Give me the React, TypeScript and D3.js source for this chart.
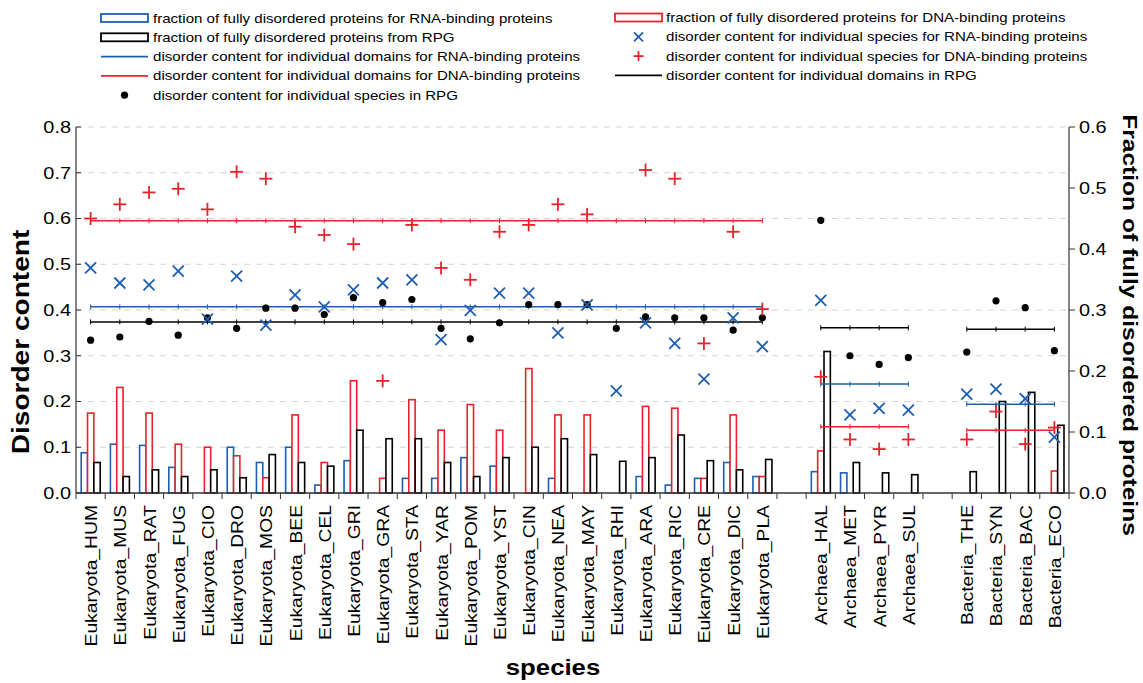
import React from "react";
import * as d3 from "d3";

// ---------- data ----------
const species = [
  "Eukaryota_HUM","Eukaryota_MUS","Eukaryota_RAT","Eukaryota_FUG","Eukaryota_CIO","Eukaryota_DRO",
  "Eukaryota_MOS","Eukaryota_BEE","Eukaryota_CEL","Eukaryota_GRI","Eukaryota_GRA","Eukaryota_STA",
  "Eukaryota_YAR","Eukaryota_POM","Eukaryota_YST","Eukaryota_CIN","Eukaryota_NEA","Eukaryota_MAY",
  "Eukaryota_RHI","Eukaryota_ARA","Eukaryota_RIC","Eukaryota_CRE","Eukaryota_DIC","Eukaryota_PLA",
  "Archaea_HAL","Archaea_MET","Archaea_PYR","Archaea_SUL",
  "Bacteria_THE","Bacteria_SYN","Bacteria_BAC","Bacteria_ECO",
];
// x slots (with empty slots between kingdoms)
const slots = [
  ...species.slice(0, 24), "gap1", ...species.slice(24, 28), "gap2", ...species.slice(28),
];
const kingdoms = ["Eukaryota", "Archaea", "Bacteria"];

// fraction of fully disordered proteins (right axis)
const rnaFraction = [0.066,0.080,0.078,0.042,null,0.075,0.050,0.075,0.013,0.053,null,0.024,0.024,0.058,0.044,null,0.024,null,null,0.027,0.013,0.024,0.050,0.027, 0.035,0.033,null,null, null,null,null,null];
const dnaFraction = [0.131,0.173,0.131,0.080,0.075,0.061,0.025,0.128,0.050,0.184,0.024,0.153,0.103,0.145,0.103,0.204,0.128,0.128,null,0.142,0.139,0.024,0.128,0.027, 0.069,null,null,null, null,null,null,0.036];
const rpgFraction = [0.050,0.027,0.038,0.027,0.038,0.025,0.063,0.050,0.044,0.103,0.089,0.089,0.050,0.027,0.058,0.075,0.089,0.063,0.052,0.058,0.095,0.053,0.038,0.055, 0.232,0.050,0.033,0.030, 0.035,0.150,0.165,0.111];

// disorder content for individual species (left axis)
const rnaSpecies = [0.492,0.459,0.455,0.485,0.380,0.474,0.367,0.433,0.407,0.444,0.459,0.466,0.335,0.399,0.437,0.437,0.350,0.411,0.223,0.372,0.327,0.249,0.383,0.320, 0.421,0.171,0.185,0.181, 0.216,0.227,0.206,0.122];
const dnaSpecies = [0.600,0.631,0.657,0.665,0.620,0.702,0.687,0.582,0.564,0.544,0.245,0.586,0.492,0.466,0.571,0.586,0.631,0.609,null,0.706,0.687,0.327,0.571,0.402, 0.254,0.117,0.096,0.117, 0.117,0.178,0.107,0.143];
const rpgSpecies = [0.334,0.341,0.375,0.345,0.383,0.360,0.404,0.404,0.390,0.427,0.416,0.423,0.360,0.337,0.372,0.412,0.412,0.412,0.360,0.385,0.383,0.383,0.356,0.383, 0.596,0.300,0.281,0.296, 0.308,0.420,0.405,0.311];

// disorder content for individual domains (per kingdom, left axis)
const rnaDomain = [0.407, 0.238, 0.194];
const dnaDomain = [0.595, 0.145, 0.137];
const rpgDomain = [0.374, 0.361, 0.358];

const leftTicks = [0, 0.1, 0.2, 0.3, 0.4, 0.5, 0.6, 0.7, 0.8];
const rightTicks = [0, 0.1, 0.2, 0.3, 0.4, 0.5, 0.6];

// ---------- style ----------
const BLUE = "#1c5fb0";
const RED = "#e8222b";
const BLACK = "#000";
const FONT = "'Liberation Sans', Arial, Helvetica, sans-serif";
const S = 1.17;

const W = 1143, H = 683;
const L = 76, R = 1069, T = 127, B = 493;

const x = d3.scaleBand<string>().domain(slots).range([L, R]).padding(0);
const yL = d3.scaleLinear().domain([0, 0.8]).range([B, T]);
const yR = d3.scaleLinear().domain([0, 0.6]).range([B, T]);
const sub = d3.scaleBand<string>().domain(["rna", "dna", "rpg"]).range([-9.4, 9.6]);
const cx = (s: string) => (x(s) as number) + x.bandwidth() / 2;

function Txt({ x, y, rot = 0, anchor = "start", size, weight = "normal", children }: any) {
  return (
    <text
      transform={`translate(${x},${y}) rotate(${rot}) scale(${S},1)`}
      textAnchor={anchor}
      dominantBaseline="central"
      fontSize={size}
      fontWeight={weight}
      fontFamily={FONT}
      fill="#000"
    >
      {children}
    </text>
  );
}

function XMark({ x, y, c, r = 5.5 }: any) {
  return (
    <g stroke={c} strokeWidth={1.8}>
      <line x1={x - r} y1={y - r} x2={x + r} y2={y + r} />
      <line x1={x - r} y1={y + r} x2={x + r} y2={y - r} />
    </g>
  );
}
function Plus({ x, y, c, r = 6.5 }: any) {
  return (
    <g stroke={c} strokeWidth={1.8}>
      <line x1={x - r} y1={y} x2={x + r} y2={y} />
      <line x1={x} y1={y - r} x2={x} y2={y + r} />
    </g>
  );
}

export default function App() {
  const bars: any[] = [];
  const fracSeries: [string, (number | null)[], string][] = [
    ["rna", rnaFraction, BLUE],
    ["dna", dnaFraction, RED],
    ["rpg", rpgFraction, BLACK],
  ];
  species.forEach((s, i) => {
    fracSeries.forEach(([k, arr, col]) => {
      const v = arr[i];
      if (v == null) return;
      const x0 = cx(s) + (sub(k) as number);
      bars.push(
        <rect key={s + k} x={x0} y={yR(v)} width={sub.bandwidth()} height={B - yR(v)}
          fill="#fff" stroke={col} strokeWidth={1.6} />
      );
    });
  });

  const domainLines: any[] = [];
  kingdoms.forEach((kg, gi) => {
    const members = species.filter((s) => s.startsWith(kg));
    const x1 = cx(members[0]);
    const x2 = cx(members[members.length - 1]);
    ([[rnaDomain, BLUE], [dnaDomain, RED], [rpgDomain, BLACK]] as [number[], string][]).forEach(([arr, col], j) => {
      const yy = yL(arr[gi]);
      domainLines.push(
        <g key={kg + j} stroke={col} strokeWidth={1.5}>
          <line x1={x1} x2={x2} y1={yy} y2={yy} />
          {members.map((m) => (
            <line key={m} x1={cx(m)} x2={cx(m)} y1={yy - 2.5} y2={yy + 2.5} strokeWidth={1} />
          ))}
        </g>
      );
    });
  });

  const markers: any[] = [];
  species.forEach((s, i) => {
    const c = cx(s);
    if (rpgSpecies[i] != null) markers.push(<circle key={s + "d"} cx={c} cy={yL(rpgSpecies[i] as number)} r={3.6} fill={BLACK} />);
    if (rnaSpecies[i] != null) markers.push(<XMark key={s + "x"} x={c} y={yL(rnaSpecies[i] as number)} c={BLUE} />);
    if (dnaSpecies[i] != null) markers.push(<Plus key={s + "p"} x={c} y={yL(dnaSpecies[i] as number)} c={RED} />);
  });

  const boundaries = d3.range(slots.length + 1).map((i) => L + i * x.bandwidth());

  const legendLeft = [
    { kind: "barBlue", text: "fraction of fully disordered proteins for RNA-binding proteins" },
    { kind: "barBlack", text: "fraction of fully disordered proteins from RPG" },
    { kind: "lineBlue", text: "disorder content for individual domains for RNA-binding proteins" },
    { kind: "lineRed", text: "disorder content for individual domains for DNA-binding proteins" },
    { kind: "dot", text: "disorder content for individual species in RPG" },
  ];
  const legendRight = [
    { kind: "barRed", text: "fraction of fully disordered proteins for DNA-binding proteins" },
    { kind: "x", text: "disorder content for individual species for RNA-binding proteins" },
    { kind: "plus", text: "disorder content for individual species for DNA-binding proteins" },
    { kind: "lineBlack", text: "disorder content for individual domains in RPG" },
  ];
  const swatch = (kind: string, x0: number, x1: number, y: number) => {
    const m = (x0 + x1) / 2;
    switch (kind) {
      case "barBlue": return <rect x={x0} y={y - 4} width={x1 - x0} height={8} fill="#fff" stroke={BLUE} strokeWidth={1.8} />;
      case "barBlack": return <rect x={x0} y={y - 4} width={x1 - x0} height={8} fill="#fff" stroke={BLACK} strokeWidth={1.8} />;
      case "barRed": return <rect x={x0} y={y - 4} width={x1 - x0} height={8} fill="#fff" stroke={RED} strokeWidth={1.8} />;
      case "lineBlue": return <line x1={x0} x2={x1} y1={y} y2={y} stroke={BLUE} strokeWidth={1.8} />;
      case "lineRed": return <line x1={x0} x2={x1} y1={y} y2={y} stroke={RED} strokeWidth={1.8} />;
      case "lineBlack": return <line x1={x0} x2={x1} y1={y} y2={y} stroke={BLACK} strokeWidth={1.8} />;
      case "dot": return <circle cx={m} cy={y} r={3.6} fill={BLACK} />;
      case "x": return <XMark x={m} y={y} c={BLUE} r={4.5} />;
      case "plus": return <Plus x={m} y={y} c={RED} r={5} />;
    }
    return null;
  };

  return (
    <svg width={W} height={H} style={{ position: "absolute", left: 0, top: 0, background: "#fff" }}>
      {/* legend */}
      {legendLeft.map((e, i) => (
        <g key={"ll" + i}>
          {swatch(e.kind, 101, 148, 18 + i * 19.3)}
          <Txt x={153} y={18 + i * 19.3} size={12.9}>{e.text}</Txt>
        </g>
      ))}
      {legendRight.map((e, i) => (
        <g key={"lr" + i}>
          {swatch(e.kind, 615, 662, 17.5 + i * 19.3)}
          <Txt x={666} y={17.5 + i * 19.3} size={12.9}>{e.text}</Txt>
        </g>
      ))}

      {/* grid */}
      {leftTicks.slice(1).map((t) => (
        <line key={"g" + t} x1={L} x2={R} y1={yL(t)} y2={yL(t)} stroke="#d4d4d4" strokeWidth={1} strokeDasharray="6,6" />
      ))}

      {bars}
      {domainLines}
      {markers}

      {/* axes */}
      <line x1={L} x2={L} y1={T} y2={B} stroke="#333" strokeWidth={1.2} />
      <line x1={R} x2={R} y1={T} y2={B} stroke="#333" strokeWidth={1.2} />
      <line x1={L} x2={R} y1={B} y2={B} stroke="#333" strokeWidth={1.5} />
      {leftTicks.map((t) => (
        <g key={"lt" + t}>
          <line x1={L} x2={L + 5} y1={yL(t)} y2={yL(t)} stroke="#333" />
          <Txt x={L - 5} y={yL(t)} anchor="end" size={17}>{d3.format(".1f")(t)}</Txt>
        </g>
      ))}
      {rightTicks.map((t) => (
        <g key={"rt" + t}>
          <line x1={R} x2={R + 6} y1={yR(t)} y2={yR(t)} stroke="#333" />
          <Txt x={R + 10} y={yR(t)} anchor="start" size={17}>{d3.format(".1f")(t)}</Txt>
        </g>
      ))}
      {boundaries.map((bx, i) => (
        <line key={"bt" + i} x1={bx} x2={bx} y1={B} y2={B + 6} stroke="#333" />
      ))}
      {species.map((s) => (
        <Txt key={"xl" + s} x={cx(s) + 1} y={505} rot={-90} anchor="end" size={16.5}>{s}</Txt>
      ))}

      {/* titles */}
      <Txt x={21} y={342} rot={-90} anchor="middle" size={24} weight="bold">Disorder content</Txt>
      <Txt x={1130} y={325} rot={90} anchor="middle" size={21} weight="bold">Fraction of  fully  disordered  proteins</Txt>
      <Txt x={553} y={667} anchor="middle" size={22} weight="bold">species</Txt>
    </svg>
  );
}
